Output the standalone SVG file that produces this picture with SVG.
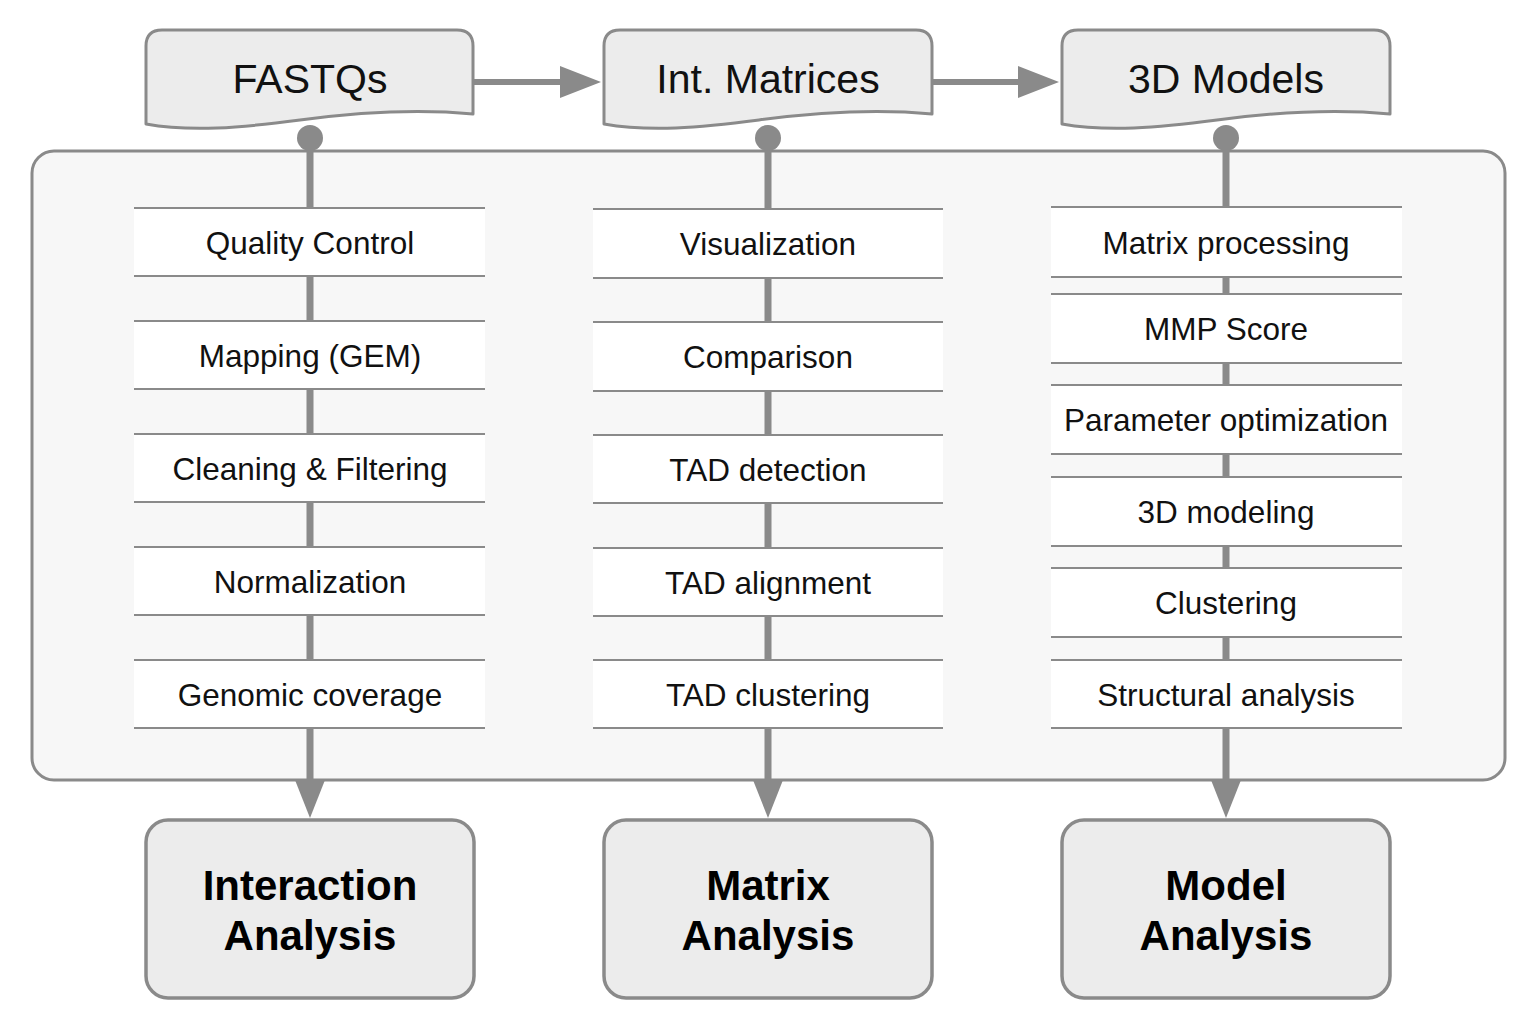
<svg xmlns="http://www.w3.org/2000/svg" width="1524" height="1016" viewBox="0 0 1524 1016">
<style>
.doc{fill:#ececec;stroke:#8a8a8a;stroke-width:3;stroke-linejoin:round}
.cont{fill:#f7f7f7;stroke:#8a8a8a;stroke-width:3}
.step{fill:#ffffff}
.edge{stroke:#8a8a8a;stroke-width:2}
.res{fill:#ececec;stroke:#8a8a8a;stroke-width:3.5}
.con{stroke:#8a8a8a;stroke-width:7;fill:none}
.hcon{stroke:#8a8a8a;stroke-width:6;fill:none}
.head{fill:#8a8a8a}
.t1{font-family:"Liberation Sans",Arial,sans-serif;font-size:41px;fill:#111;text-anchor:middle}
.t2{font-family:"Liberation Sans",Arial,sans-serif;font-size:31.5px;fill:#111;text-anchor:middle}
.t3{font-family:"Liberation Sans",Arial,sans-serif;font-size:42px;font-weight:bold;fill:#000;text-anchor:middle}
</style>
<rect x="0" y="0" width="1524" height="1016" fill="#ffffff"/>
<rect id="container" class="cont" x="32" y="151" width="1473" height="629" rx="22"/>

<g id="connectors">
  <!-- horizontal arrows -->
  <line class="hcon" x1="474" y1="82" x2="565" y2="82"/>
  <polygon class="head" points="560,66 601,82 560,98"/>
  <line class="hcon" x1="932" y1="82" x2="1023" y2="82"/>
  <polygon class="head" points="1018,66 1059,82 1018,98"/>
  <!-- column spines -->
  <line class="con" x1="310" y1="138" x2="310" y2="785"/>
  <line class="con" x1="768" y1="138" x2="768" y2="785"/>
  <line class="con" x1="1226" y1="138" x2="1226" y2="785"/>
  <circle class="head" cx="310" cy="138" r="13"/>
  <circle class="head" cx="768" cy="138" r="13"/>
  <circle class="head" cx="1226" cy="138" r="13"/>
  <polygon class="head" points="295,780 325,780 310,818"/>
  <polygon class="head" points="753,780 783,780 768,818"/>
  <polygon class="head" points="1211,780 1241,780 1226,818"/>
</g>

<g id="fastqs">
  <path class="doc" d="M146,124 L146,46 Q146,30 162,30 L457,30 Q473,30 473,46 L473,114 C420,109 360,112 300,120 C240,128 190,132 146,124 Z"/>
  <text class="t1" x="310" y="93">FASTQs</text>
</g>
<g id="int-matrices">
  <path class="doc" d="M604,124 L604,46 Q604,30 620,30 L916,30 Q932,30 932,46 L932,114 C879,109 819,112 759,120 C699,128 649,132 604,124 Z"/>
  <text class="t1" x="768" y="93">Int. Matrices</text>
</g>
<g id="3d-models">
  <path class="doc" d="M1062,124 L1062,46 Q1062,30 1078,30 L1374,30 Q1390,30 1390,46 L1390,114 C1337,109 1277,112 1217,120 C1157,128 1107,132 1062,124 Z"/>
  <text class="t1" x="1226" y="93">3D Models</text>
</g>

<!-- Column 1 steps -->
<g id="quality-control">
  <rect class="step" x="134" y="208" width="351" height="68"/>
  <line class="edge" x1="134" y1="208" x2="485" y2="208"/><line class="edge" x1="134" y1="276" x2="485" y2="276"/>
  <text class="t2" x="310" y="254">Quality Control</text>
</g>
<g id="mapping">
  <rect class="step" x="134" y="321" width="351" height="68"/>
  <line class="edge" x1="134" y1="321" x2="485" y2="321"/><line class="edge" x1="134" y1="389" x2="485" y2="389"/>
  <text class="t2" x="310" y="367">Mapping (GEM)</text>
</g>
<g id="cleaning">
  <rect class="step" x="134" y="434" width="351" height="68"/>
  <line class="edge" x1="134" y1="434" x2="485" y2="434"/><line class="edge" x1="134" y1="502" x2="485" y2="502"/>
  <text class="t2" x="310" y="480">Cleaning &amp; Filtering</text>
</g>
<g id="normalization">
  <rect class="step" x="134" y="547" width="351" height="68"/>
  <line class="edge" x1="134" y1="547" x2="485" y2="547"/><line class="edge" x1="134" y1="615" x2="485" y2="615"/>
  <text class="t2" x="310" y="593">Normalization</text>
</g>
<g id="genomic-coverage">
  <rect class="step" x="134" y="660" width="351" height="68"/>
  <line class="edge" x1="134" y1="660" x2="485" y2="660"/><line class="edge" x1="134" y1="728" x2="485" y2="728"/>
  <text class="t2" x="310" y="706">Genomic coverage</text>
</g>

<!-- Column 2 steps -->
<g id="visualization">
  <rect class="step" x="593" y="209" width="350" height="69"/>
  <line class="edge" x1="593" y1="209" x2="943" y2="209"/><line class="edge" x1="593" y1="278" x2="943" y2="278"/>
  <text class="t2" x="768" y="255">Visualization</text>
</g>
<g id="comparison">
  <rect class="step" x="593" y="322" width="350" height="69"/>
  <line class="edge" x1="593" y1="322" x2="943" y2="322"/><line class="edge" x1="593" y1="391" x2="943" y2="391"/>
  <text class="t2" x="768" y="368">Comparison</text>
</g>
<g id="tad-detection">
  <rect class="step" x="593" y="435" width="350" height="68"/>
  <line class="edge" x1="593" y1="435" x2="943" y2="435"/><line class="edge" x1="593" y1="503" x2="943" y2="503"/>
  <text class="t2" x="768" y="481">TAD detection</text>
</g>
<g id="tad-alignment">
  <rect class="step" x="593" y="548" width="350" height="68"/>
  <line class="edge" x1="593" y1="548" x2="943" y2="548"/><line class="edge" x1="593" y1="616" x2="943" y2="616"/>
  <text class="t2" x="768" y="594">TAD alignment</text>
</g>
<g id="tad-clustering">
  <rect class="step" x="593" y="660" width="350" height="68"/>
  <line class="edge" x1="593" y1="660" x2="943" y2="660"/><line class="edge" x1="593" y1="728" x2="943" y2="728"/>
  <text class="t2" x="768" y="706">TAD clustering</text>
</g>

<!-- Column 3 steps -->
<g id="matrix-processing">
  <rect class="step" x="1051" y="207" width="351" height="70"/>
  <line class="edge" x1="1051" y1="207" x2="1402" y2="207"/><line class="edge" x1="1051" y1="277" x2="1402" y2="277"/>
  <text class="t2" x="1226" y="254">Matrix processing</text>
</g>
<g id="mmp-score">
  <rect class="step" x="1051" y="294" width="351" height="69"/>
  <line class="edge" x1="1051" y1="294" x2="1402" y2="294"/><line class="edge" x1="1051" y1="363" x2="1402" y2="363"/>
  <text class="t2" x="1226" y="340">MMP Score</text>
</g>
<g id="parameter-optimization">
  <rect class="step" x="1051" y="385" width="351" height="69"/>
  <line class="edge" x1="1051" y1="385" x2="1402" y2="385"/><line class="edge" x1="1051" y1="454" x2="1402" y2="454"/>
  <text class="t2" x="1226" y="431">Parameter optimization</text>
</g>
<g id="3d-modeling">
  <rect class="step" x="1051" y="477" width="351" height="69"/>
  <line class="edge" x1="1051" y1="477" x2="1402" y2="477"/><line class="edge" x1="1051" y1="546" x2="1402" y2="546"/>
  <text class="t2" x="1226" y="523">3D modeling</text>
</g>
<g id="clustering">
  <rect class="step" x="1051" y="568" width="351" height="69"/>
  <line class="edge" x1="1051" y1="568" x2="1402" y2="568"/><line class="edge" x1="1051" y1="637" x2="1402" y2="637"/>
  <text class="t2" x="1226" y="614">Clustering</text>
</g>
<g id="structural-analysis">
  <rect class="step" x="1051" y="660" width="351" height="68"/>
  <line class="edge" x1="1051" y1="660" x2="1402" y2="660"/><line class="edge" x1="1051" y1="728" x2="1402" y2="728"/>
  <text class="t2" x="1226" y="706">Structural analysis</text>
</g>

<!-- Results -->
<g id="interaction-analysis">
  <rect class="res" x="146" y="820" width="328" height="178" rx="22"/>
  <text class="t3" x="310" y="900">Interaction</text>
  <text class="t3" x="310" y="950">Analysis</text>
</g>
<g id="matrix-analysis">
  <rect class="res" x="604" y="820" width="328" height="178" rx="22"/>
  <text class="t3" x="768" y="900">Matrix</text>
  <text class="t3" x="768" y="950">Analysis</text>
</g>
<g id="model-analysis">
  <rect class="res" x="1062" y="820" width="328" height="178" rx="22"/>
  <text class="t3" x="1226" y="900">Model</text>
  <text class="t3" x="1226" y="950">Analysis</text>
</g>
</svg>
